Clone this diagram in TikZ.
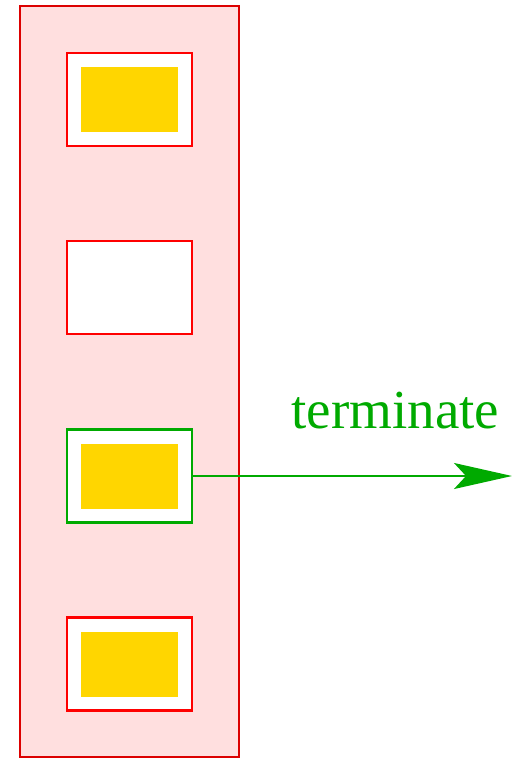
\documentclass[tikz,border=0pt]{standalone}
\usepackage{fontspec}
\setmainfont{Liberation Serif}
\usetikzlibrary{arrows.meta}
\definecolor{pinkfill}{RGB}{255,223,223}
\definecolor{darkred}{RGB}{220,0,0}
\definecolor{brightred}{RGB}{255,0,0}
\definecolor{termgreen}{RGB}{0,170,0}
\definecolor{gold}{RGB}{255,214,0}
\tikzset{
  stack/.style={draw=darkred, fill=pinkfill, line width=2.2pt, minimum width=219pt, minimum height=751pt, inner sep=0pt},
  slot/.style={draw=brightred, fill=white, line width=2.4pt, minimum width=125pt, minimum height=93pt, inner sep=0pt},
  activeslot/.style={slot, draw=termgreen},
  content/.style={fill=gold, minimum width=97pt, minimum height=65pt, inner sep=0pt},
  flow/.style={draw=termgreen, line width=2pt, -{Stealth[length=58pt,width=26pt,inset=12pt]}},
}
\begin{document}
\begin{tikzpicture}[x=1pt,y=-1pt]
  \useasboundingbox (0,0) rectangle (513,759);
  % outer stack frame
  \node[stack] (frame) at (129.5,381.5) {};
  % four slots, spaced evenly
  \node[slot] (s1) at (129.5,99.5) {};
  \node[content] (c1) at (129.5,99.5) {};
  \node[slot] (s2) at (129.5,287.5) {};
  \node[activeslot] (s3) at (129.5,476) {};
  \node[content] (c3) at (129.5,476) {};
  \node[slot] (s4) at (129.5,664) {};
  \node[content] (c4) at (129.5,664.5) {};
  % termination arrow
  \coordinate (out) at (512,476);
  \draw[flow] (s3.east) -- (out);
  \node[text=termgreen, font=\fontsize{55}{60}\selectfont, anchor=base] (lbl) at (395.5,428) {terminate};
\end{tikzpicture}
\end{document}
